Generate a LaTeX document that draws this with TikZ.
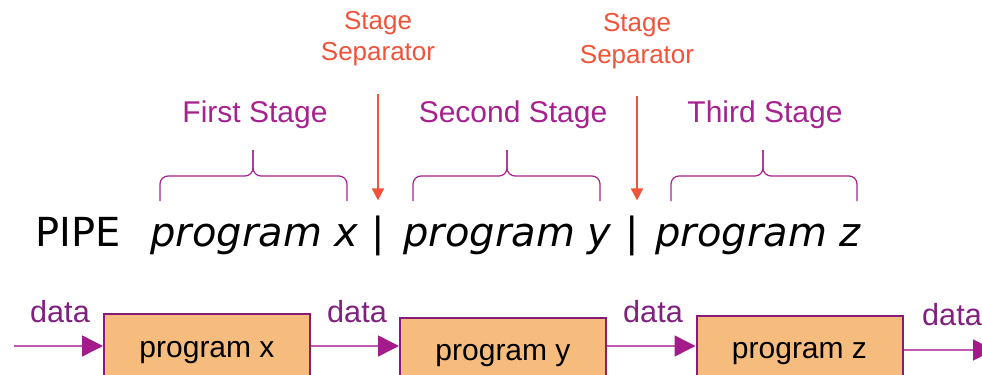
\documentclass[tikz,border=0pt]{standalone}
\usepackage{fontspec}
\setmainfont{Liberation Sans}
\newfontfamily\pipefont{DejaVu Sans}
\usetikzlibrary{arrows.meta,positioning}

\definecolor{stagepurple}{HTML}{A5228F}
\definecolor{datapurple}{HTML}{80207F}
\definecolor{sepred}{HTML}{F0533A}
\definecolor{boxfill}{HTML}{F6BC7E}
\definecolor{boxborder}{HTML}{861C78}
\definecolor{flowline}{HTML}{C458AE}
\definecolor{flowhead}{HTML}{A41B8C}

\tikzset{
  stagelabel/.style={text=stagepurple, anchor=base, font=\fontsize{15}{18}\selectfont},
  seplabel/.style={text=sepred, align=center, anchor=base, font=\fontsize{13}{16}\selectfont},
  pipetext/.style={anchor=base west, inner sep=0pt, font=\pipefont\fontsize{20}{24}\selectfont},
  progbox/.style={draw=boxborder, line width=1pt, fill=boxfill, inner sep=0pt,
    minimum width=103pt, minimum height=38pt, font=\fontsize{15}{18}\selectfont},
  datalabel/.style={text=datapurple, anchor=base, font=\fontsize{15.3}{18}\selectfont},
  dataflow/.style={draw=flowline, line width=0.75pt,
    -{Triangle[length=10.5pt,width=10.5pt,color=flowhead]}},
  sepline/.style={draw=sepred, line width=0.8pt, -{Triangle[length=6pt,width=6pt]}},
  bracestyle/.style={draw=stagepurple, line width=0.6pt, rounded corners=4pt}
}

% brace: left end, tip, right end
\newcommand{\stagebrace}[3]{
  \draw[bracestyle] (#1,201) -- (#1,176) -- (#2,176) -- (#2,150);
  \draw[bracestyle] (#2,150) -- (#2,176) -- (#3,176) -- (#3,201);
}

\begin{document}
\begin{tikzpicture}[x=0.5pt, y=-0.5pt]
  \useasboundingbox (0,0) rectangle (982,375);
  \clip (0,0) rectangle (982,375);

  % separators and stage names
  \node[seplabel] (sep1) at (378,61) {Stage\\Separator};
  \node[seplabel] (sep2) at (637,63) {Stage\\Separator};
  \node[stagelabel] (stage1) at (255,122) {First Stage};
  \node[stagelabel] (stage2) at (513,122) {Second Stage};
  \node[stagelabel] (stage3) at (765,122) {Third Stage};

  \stagebrace{160}{253}{347}
  \stagebrace{413}{507}{600}
  \stagebrace{671}{763}{857}

  % the command line
  \node[pipetext] (pipe) at (35,246) {PIPE};
  \node[pipetext] (cmdx) at (150,246) {\itshape program x};
  \node[pipetext, anchor=base] (bar1) at (378,246) {|};
  \node[pipetext] (cmdy) at (403,246) {\itshape program y};
  \node[pipetext, anchor=base] (bar2) at (632,246) {|};
  \node[pipetext] (cmdz) at (655,246) {\itshape program z};

  \draw[sepline, shorten <=10.5pt, shorten >=7.3pt] (sep1.south) -- (bar1.north);
  \draw[sepline, shorten <=10.5pt, shorten >=7.3pt] (sep2.south) -- (sep2.south |- bar2.north);

  % the pipeline
  \node[progbox] (progx) at (207,352.4) {program x};
  \node[progbox] (progy) at (503,356) {program y};
  \node[progbox] (progz) at (799.5,354) {program z};

  \coordinate (datain) at (14,346);
  \coordinate (dataout) at (994,350);
  \draw[dataflow] (datain) -- (datain -| progx.west);
  \draw[dataflow] (progx.east |- datain) -- (progy.west |- datain);
  \draw[dataflow] (progy.east |- datain) -- (progz.west |- datain);
  \draw[dataflow] (progz.east |- dataout) -- (dataout);

  \node[datalabel] (data1) at (60,322) {data};
  \node[datalabel] (data2) at (357,322) {data};
  \node[datalabel] (data3) at (653,322) {data};
  \node[datalabel] (data4) at (952,325) {data};
\end{tikzpicture}
\end{document}
